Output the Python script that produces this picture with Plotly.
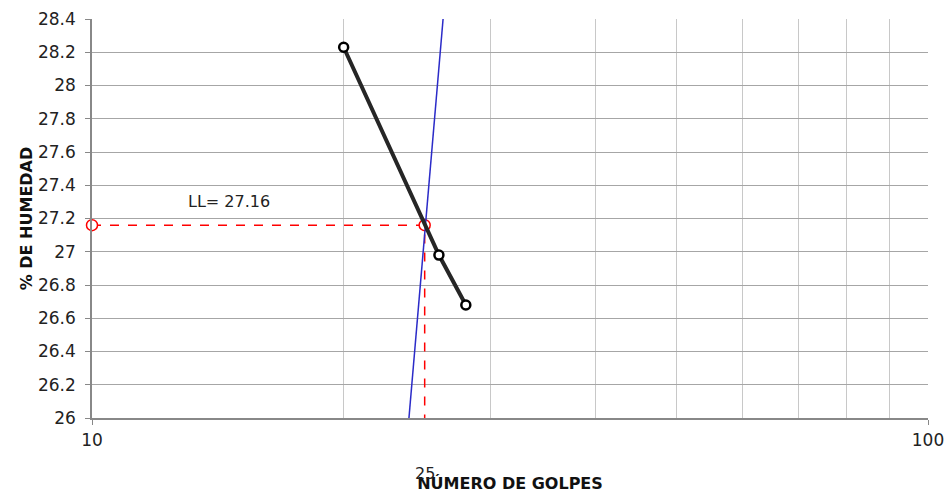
import math
import plotly.graph_objects as go

# data
golpes = [20, 26, 28]
humedad = [28.23, 26.98, 26.68]

trend_x = [23.94, 26.30]
trend_y = [26.0, 28.4]

ll_golpes = 25
ll_value = 27.16

FONT = "'DejaVu Sans', sans-serif"

fig = go.Figure()

# red dashed guide lines to the liquid limit
fig.add_trace(go.Scatter(
    x=[10, ll_golpes, ll_golpes], y=[ll_value, ll_value, 26.0],
    mode="lines", line=dict(color="#ff0000", width=1.5, dash="dash"),
    showlegend=False, hoverinfo="skip", cliponaxis=False,
))
fig.add_trace(go.Scatter(
    x=[10, ll_golpes], y=[ll_value, ll_value],
    mode="markers",
    marker=dict(size=11, color="white", line=dict(color="#ff0000", width=1.5)),
    showlegend=False, cliponaxis=False,
))

# blue trend line
fig.add_trace(go.Scatter(
    x=trend_x, y=trend_y, mode="lines",
    line=dict(color="#2b2bc8", width=1.5), showlegend=False,
))

# measured points
fig.add_trace(go.Scatter(
    x=golpes, y=humedad, mode="lines+markers",
    line=dict(color="#262626", width=4),
    marker=dict(size=9, color="white", line=dict(color="black", width=2.5)),
    showlegend=False,
))

# annotations on a log axis take log10 positions
fig.add_annotation(x=math.log10(14.6), y=27.30, text="LL= 27.16", showarrow=False,
                   font=dict(size=16, color="#222"))
fig.add_annotation(x=math.log10(ll_golpes), y=0, yref="paper", yshift=-67,
                   text="25", showarrow=False, font=dict(size=16, color="#222"))

fig.update_xaxes(
    type="log", range=[1, 2], automargin=False,
    tickvals=[10, 100], ticktext=["10", "100"], ticklabeloverflow="allow",
    ticks="outside", ticklen=5, tickcolor="#888", ticklabelstandoff=1,
    showline=True, linecolor="#888", linewidth=1.5,
    showgrid=True, gridcolor="#c8c8c8",
    minor=dict(tickvals=[20, 30, 40, 50, 60, 70, 80, 90], showgrid=True,
               gridcolor="#c8c8c8", gridwidth=1, ticks=""),
    tickfont=dict(size=17, color="#222"),
    title=dict(text="<b>NÚMERO DE GOLPES</b>", font=dict(size=16, color="#111"),
               standoff=31),
    zeroline=False,
)
fig.update_yaxes(
    range=[26, 28.4], dtick=0.2, automargin=False,
    ticks="outside", ticklen=5, tickcolor="#888", ticklabelstandoff=6,
    showline=True, linecolor="#888", linewidth=1.5,
    showgrid=True, gridcolor="#a6a6a6", gridwidth=1.3,
    tickfont=dict(size=17, color="#222"),
    title=dict(text="<b>% DE HUMEDAD</b>", font=dict(size=16, color="#111"),
               standoff=1),
    zeroline=False,
)

fig.update_layout(
    width=944, height=493,
    margin=dict(l=92, r=16, t=19, b=75),
    plot_bgcolor="white", paper_bgcolor="white",
    font=dict(family=FONT),
)

# drop the default body margin so the figure fills the window exactly
fig.write_html(
    "out.html",
    config={"displayModeBar": False},
    post_script="document.body.style.margin='0';document.body.style.overflow='hidden';",
)
